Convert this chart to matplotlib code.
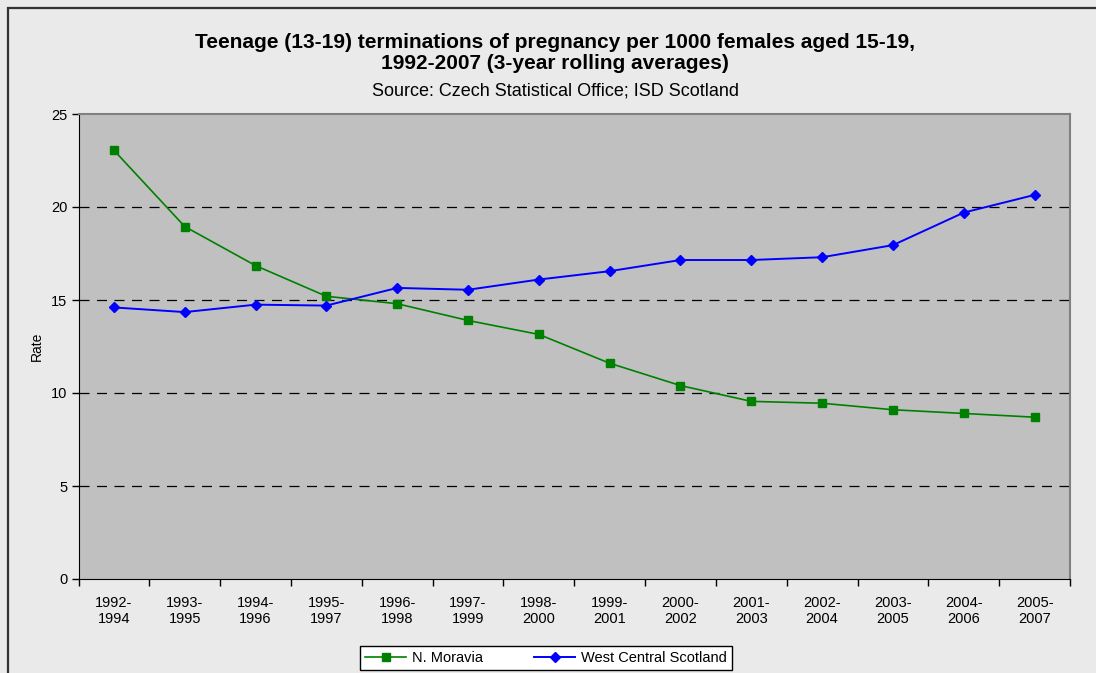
import matplotlib.pyplot as plt
import numpy as np
from matplotlib.patches import Rectangle
from matplotlib.ticker import FixedLocator

plt.rcParams['font.family'] = ['Liberation Sans', 'DejaVu Sans']

# DATA
periods = ['1992-\n1994', '1993-\n1995', '1994-\n1996', '1995-\n1997', '1996-\n1998',
           '1997-\n1999', '1998-\n2000', '1999-\n2001', '2000-\n2002', '2001-\n2003',
           '2002-\n2004', '2003-\n2005', '2004-\n2006', '2005-\n2007']
n_moravia = [23.05, 18.95, 16.85, 15.2, 14.8, 13.9, 13.15, 11.6, 10.4, 9.55,
             9.45, 9.1, 8.9, 8.7]
wc_scotland = [14.6, 14.35, 14.75, 14.7, 15.65, 15.55, 16.1, 16.55, 17.15, 17.15,
               17.3, 17.95, 19.7, 20.65]
y_ticks = [0, 5, 10, 15, 20, 25]

# FIGURE
fig = plt.figure(figsize=(10.96, 6.73), dpi=100)
fig.patch.set_facecolor('#eaeaea')
fig.patches.append(Rectangle((8 / 1096, -0.1), 1.2, 1 - 8 / 673 + 0.1,
                             transform=fig.transFigure, fill=False,
                             edgecolor='#333333', linewidth=1.6))

ax = fig.add_axes([78.5 / 1096, 1 - 579 / 673, (1070 - 78.5) / 1096, (579 - 114) / 673])
ax.set_facecolor('#c0c0c0')

x = np.arange(len(periods))
ax.plot(x, n_moravia, color='#008000', linewidth=1.2, marker='s', markersize=6,
        markeredgecolor='#008000', label='N. Moravia', zorder=3)
ax.plot(x, wc_scotland, color='#0000ff', linewidth=1.4, marker='D', markersize=5.5,
        markeredgecolor='#0000ff', label='West Central Scotland', zorder=3)

# AXES
ax.set_xlim(-0.5, len(periods) - 0.5)
ax.set_ylim(0, 25)
ax.set_yticks(y_ticks)
ax.set_yticklabels([str(t) for t in y_ticks], fontsize=10.5)
ax.set_xticks(x)
ax.set_xticklabels(periods, fontsize=10.5, linespacing=1.2)
ax.tick_params(axis='x', which='major', length=0, pad=12)
ax.xaxis.set_minor_locator(FixedLocator(np.arange(-0.5, len(periods), 1)))
ax.tick_params(axis='x', which='minor', length=5, direction='out', width=1)
ax.tick_params(axis='y', length=5, direction='out', width=1, pad=3)
ax.set_ylabel('Rate', fontsize=10, labelpad=5)

for yv in y_ticks[1:-1]:
    ax.axhline(yv, color='black', linewidth=0.9, linestyle=(0, (8, 6)), zorder=1)

ax.spines['left'].set_color('black')
ax.spines['bottom'].set_color('black')
ax.spines['top'].set_color('#808080')
ax.spines['right'].set_color('#808080')
ax.spines['top'].set_linewidth(1.5)
ax.spines['right'].set_linewidth(1.5)

# TITLES
cx = 555 / 1096
fig.text(cx, 1 - 48 / 673, 'Teenage (13-19) terminations of pregnancy per 1000 females aged 15-19,',
         ha='center', va='baseline', fontsize=15, fontweight='bold')
fig.text(cx, 1 - 69 / 673, '1992-2007 (3-year rolling averages)',
         ha='center', va='baseline', fontsize=15, fontweight='bold')
fig.text(cx, 1 - 95 / 673, 'Source: Czech Statistical Office; ISD Scotland',
         ha='center', va='baseline', fontsize=13)

# LEGEND
leg = fig.legend(loc='center', bbox_to_anchor=(546 / 1096, 1 - 658 / 673), ncol=2,
                 fontsize=10.5, frameon=True, fancybox=False, edgecolor='black',
                 framealpha=1, handlelength=2.8, handletextpad=0.4, columnspacing=3.5,
                 borderpad=0.35, markerscale=1.0)
leg.get_frame().set_linewidth(1)

fig.savefig('out.png', dpi=100, facecolor=fig.get_facecolor())
